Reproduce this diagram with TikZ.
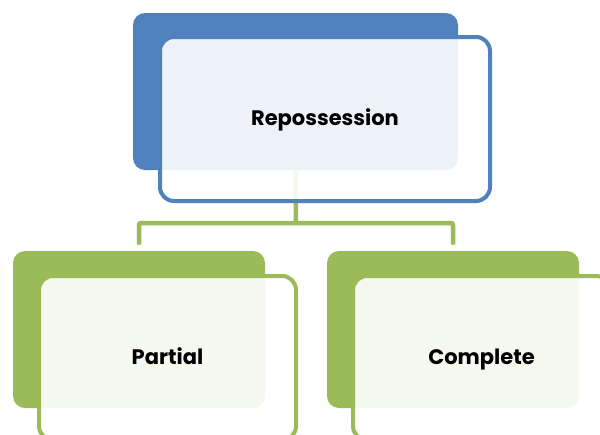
\documentclass[tikz,border=0pt]{standalone}
\usepackage{fontspec}
\setmainfont{Poppins}
\usetikzlibrary{positioning}
\definecolor{accblue}{HTML}{4F81BD}
\definecolor{accgreen}{HTML}{9BBB59}

\begin{document}
\begin{tikzpicture}[x=1pt,y=-1pt,thick]
\tikzstyle{back}=[shape=rectangle,rounded corners=12pt,inner sep=0pt]
\tikzstyle{front}=[shape=rectangle,rounded corners=14pt,line width=4pt,fill=white,fill opacity=0.9,text opacity=1,inner sep=0pt,minimum height=164pt,text height=15pt,text depth=3pt,font=\bfseries\fontsize{21}{24}\selectfont]
\tikzstyle{link}=[draw=accgreen,line width=4.5pt,rounded corners=2pt]

\useasboundingbox (0,0) rectangle (600,434);

\node[back,fill=accblue,minimum width=325pt,minimum height=157pt]		(R) at (295.5,91.5) {};
\node[back,fill=accgreen,minimum width=252pt,minimum height=157pt]	(P) at (139,329.5) {};
\node[back,fill=accgreen,minimum width=252pt,minimum height=157pt]	(C) at (453,329.5) {};
\coordinate (fork) at (296,223);

\draw[link] (R.south) -- (fork);
\draw[link] ([yshift=6pt]P.north) |- (fork) -| ([yshift=6pt]C.north);

\node[front,draw=accblue,minimum width=330pt]	(RT) [xshift=29.5pt,yshift=-27.5pt] at (R) {Repossession};
\node[front,draw=accgreen,minimum width=257pt]	(PT) [xshift=28.5pt,yshift=-28.5pt] at (P) {Partial};
\node[front,draw=accgreen,minimum width=257pt]	(CT) [xshift=28.5pt,yshift=-28.5pt] at (C) {Complete};
\end{tikzpicture}
\end{document}
